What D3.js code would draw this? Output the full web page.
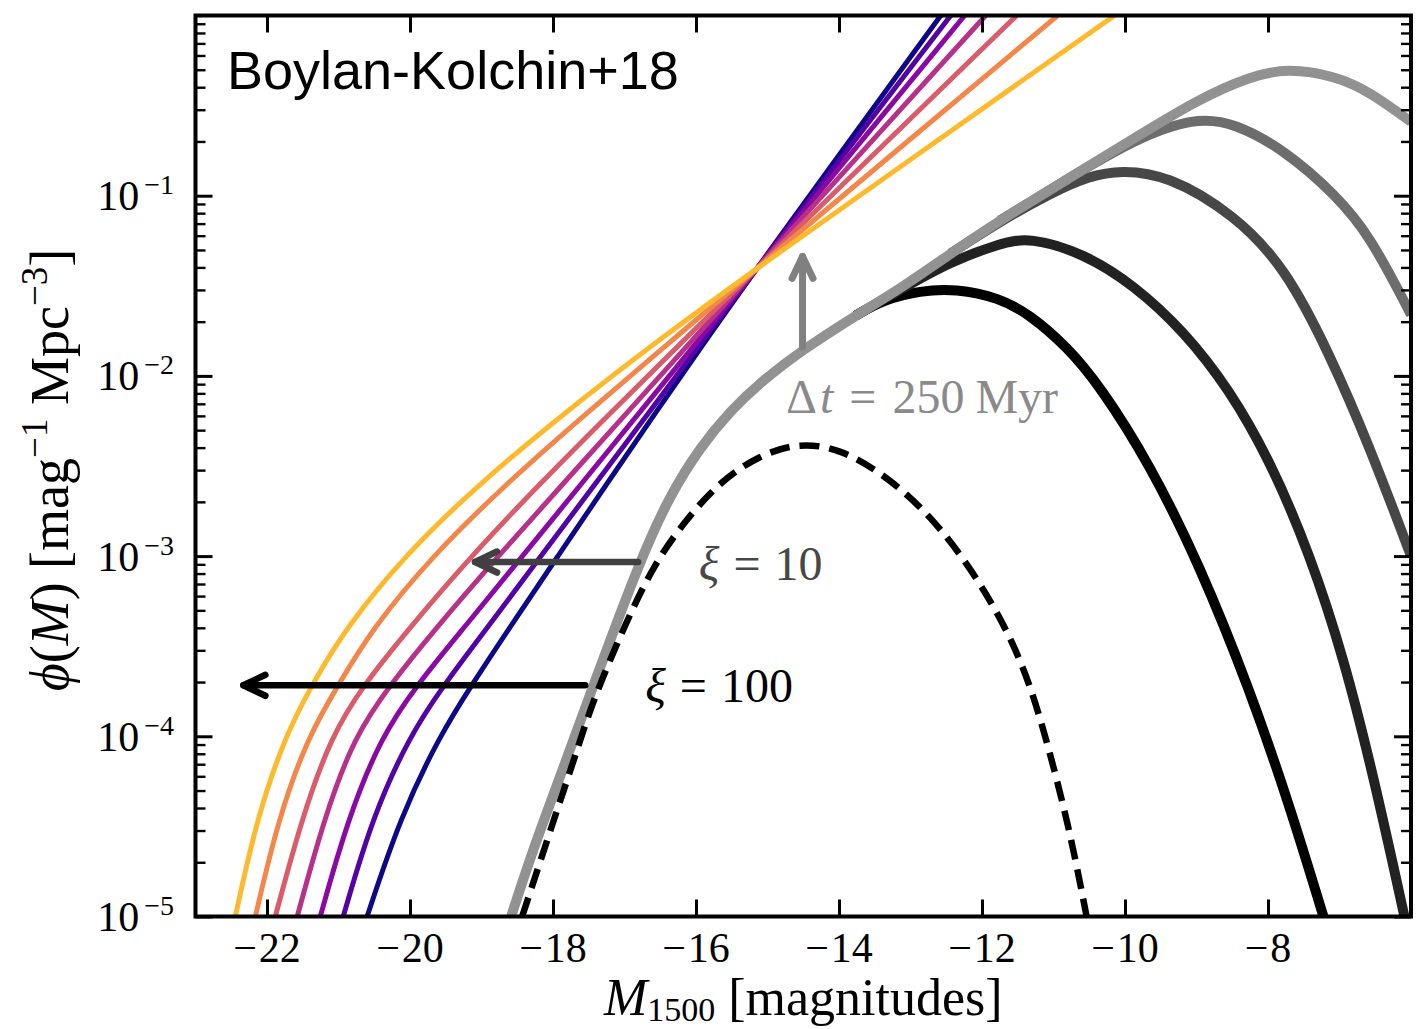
<!DOCTYPE html>
<html>
<head>
<meta charset="utf-8">
<script src="https://cdn.jsdelivr.net/npm/d3@7"></script>
<style>
  html, body { margin: 0; padding: 0; background: #ffffff; }
  svg { display: block; }
</style>
</head>
<body>
<svg id="chart" width="1427" height="1029"></svg>
<script>
// ---------------------------------------------------------------
// UV luminosity functions, phi(M) in mag^-1 Mpc^-3 (stored as log10)
// ---------------------------------------------------------------

// Shared log10(phi) levels for the family of steep-faint-end LFs
const lfLogPhi = [-5, -4.45, -4, -3.72, -3.4, -3.0, -2.6, -2.2, -1.8, -1.4, 0];

// Magnitude reached by each LF at the levels above (steepest first)
const lfMags = [
  [-20.600, -20.137, -19.588, -19.145, -18.613, -17.931, -17.250, -16.558, -15.857, -15.148, -12.577],
  [-20.934, -20.528, -20.007, -19.537, -18.924, -18.168, -17.411, -16.653, -15.896, -15.148, -12.437],
  [-21.255, -20.864, -20.398, -19.914, -19.250, -18.428, -17.605, -16.783, -15.960, -15.148, -12.242],
  [-21.577, -21.199, -20.776, -20.291, -19.640, -18.768, -17.862, -16.954, -16.046, -15.148, -11.948],
  [-21.884, -21.511, -21.101, -20.661, -20.011, -19.145, -18.189, -17.184, -16.162, -15.148, -11.515],
  [-22.163, -21.838, -21.423, -21.011, -20.523, -19.690, -18.659, -17.510, -16.325, -15.148, -10.942],
  [-22.443, -22.140, -21.745, -21.381, -20.899, -20.084, -19.039, -17.824, -16.518, -15.148, -10.146]
];

// Turn-over LFs for increasing burst time scale (darkest = shortest)
const toBlackMag = [-13.770, -13.379, -12.862, -12.373, -11.752, -11.333, -10.816, -10.355, -9.656, -8.958, -8.259, -7.700, -7.225];
const toBlackLog = [-1.666, -1.577, -1.527, -1.516, -1.567, -1.660, -1.836, -2.053, -2.488, -3.048, -3.737, -4.381, -5.0];

const toNearBlackMag = [-13.770, -13.141, -12.443, -11.752, -11.333, -10.578, -9.880, -9.167, -8.538, -7.979, -7.420, -6.931, -6.512, -6.092];
const toNearBlackLog = [-1.666, -1.521, -1.366, -1.265, -1.230, -1.320, -1.494, -1.755, -2.077, -2.465, -2.982, -3.576, -4.242, -5.0];

const toDarkMag = [-12.443, -11.752, -11.053, -10.494, -10.061, -9.404, -8.468, -7.755, -7.154, -6.582, -6.0];
const toDarkLog = [-1.322, -1.144, -0.988, -0.890, -0.858, -0.885, -1.105, -1.402, -1.866, -2.388, -3.0];

const toMidMag = [-11.752, -10.816, -9.880, -9.028, -8.469, -7.756, -7.057, -6.582, -6.0];
const toMidLog = [-1.138, -0.911, -0.689, -0.565, -0.595, -0.750, -0.994, -1.216, -1.66];

const toLightMag = [-18.586, -18.321, -17.944, -17.441, -16.798, -16.364, -15.936, -15.517, -15.098, -14.511, -13.770, -13.141, -12.443, -11.752, -10.816, -9.880, -8.958, -8.259, -7.742, -7.057, -6.582, -6.0];
const toLightLog = [-5.000, -4.675, -4.270, -3.723, -3.037, -2.660, -2.393, -2.193, -2.035, -1.855, -1.666, -1.516, -1.322, -1.138, -0.911, -0.683, -0.461, -0.340, -0.292, -0.335, -0.422, -0.590];

// Dashed reference LF
const dashedMag = [-18.432, -18.180, -17.944, -17.692, -17.441, -16.965, -16.574, -16.141, -15.666, -15.107, -14.548, -13.989, -13.429, -12.870, -12.311, -11.752, -11.333, -10.984, -10.746, -10.537];
const dashedLog = [-5.0, -4.697, -4.409, -4.114, -3.798, -3.354, -3.037, -2.798, -2.587, -2.438, -2.370, -2.405, -2.532, -2.715, -2.976, -3.326, -3.687, -4.187, -4.575, -5.0];

// Axis ticks
const xTicks = [-22, -20, -18, -16, -14, -12, -10, -8];
const yExponents = [-5, -4, -3, -2, -1];

// Annotation arrows (magnitude, log10 phi)
const arrowDt   = { mag: -14.51, fromLog: -1.84, toLog: -1.337 };
const arrowXi10 = { log: -3.033, fromMag: -16.81, toMag: -19.09 };
const arrowXi100 = { log: -3.717, fromMag: -17.55, toMag: -22.33 };

// ---------------------------------------------------------------
const svg = d3.select("#chart");
const frame = { left: 195.5, right: 1411, top: 15.5, bottom: 916.5 };
const serif = "'Liberation Serif', 'DejaVu Serif', 'Times New Roman', serif";

const x = d3.scaleLinear().domain([-23, -6]).range([frame.left, frame.right]);
const y = d3.scaleLog().domain([1e-5, 1]).range([frame.bottom, frame.top]);

const phi = v => Math.pow(10, v);
const line = d3.line()
  .x(d => x(d[0]))
  .y(d => y(phi(d[1])))
  .curve(d3.curveBasis);

svg.append("defs").append("clipPath").attr("id", "plot-clip")
  .append("rect")
  .attr("x", frame.left).attr("y", frame.top)
  .attr("width", frame.right - frame.left)
  .attr("height", frame.bottom - frame.top);

const plot = svg.append("g").attr("clip-path", "url(#plot-clip)");

// Steep faint-end LFs, plasma colour ramp
lfMags.forEach((mags, i) => {
  const pts = mags.map((m, j) => [m, lfLogPhi[j]]);
  plot.append("path")
    .attr("d", line(pts))
    .attr("fill", "none")
    .attr("stroke", d3.interpolatePlasma(i * 0.85 / 6))
    .attr("stroke-width", 5);
});

// Turn-over family, light envelope drawn last
const grayCurves = [
  { mag: toBlackMag, log: toBlackLog, color: "#000000" },
  { mag: toNearBlackMag, log: toNearBlackLog, color: "#222222" },
  { mag: toDarkMag, log: toDarkLog, color: "#474747" },
  { mag: toMidMag, log: toMidLog, color: "#6d6d6d" },
  { mag: toLightMag, log: toLightLog, color: "#929292" }
];
grayCurves.forEach(c => {
  plot.append("path")
    .attr("d", line(c.mag.map((m, j) => [m, c.log[j]])))
    .attr("fill", "none")
    .attr("stroke", c.color)
    .attr("stroke-width", 10);
});

plot.append("path")
  .attr("d", line(dashedMag.map((m, j) => [m, dashedLog[j]])))
  .attr("fill", "none")
  .attr("stroke", "#000")
  .attr("stroke-width", 6.5)
  .attr("stroke-dasharray", "20 10");

// Arrows
function arrow(x1, y1, x2, y2, color, width) {
  const g = svg.append("g")
    .attr("fill", "none").attr("stroke", color)
    .attr("stroke-width", width)
    .attr("stroke-linecap", "round").attr("stroke-linejoin", "round");
  g.append("line").attr("x1", x1).attr("y1", y1).attr("x2", x2).attr("y2", y2);
  const ang = Math.atan2(y2 - y1, x2 - x1);
  const len = 22, half = 10.5;
  const bx = x2 - len * Math.cos(ang), by = y2 - len * Math.sin(ang);
  const nx = -Math.sin(ang) * half, ny = Math.cos(ang) * half;
  g.append("path").attr("d",
    `M${bx + nx},${by + ny} L${x2},${y2} L${bx - nx},${by - ny}`);
}
arrow(x(arrowDt.mag), y(phi(arrowDt.fromLog)), x(arrowDt.mag), y(phi(arrowDt.toLog)), "#808080", 7);
arrow(x(arrowXi10.fromMag), y(phi(arrowXi10.log)), x(arrowXi10.toMag), y(phi(arrowXi10.log)), "#404040", 6.5);
arrow(x(arrowXi100.fromMag), y(phi(arrowXi100.log)), x(arrowXi100.toMag), y(phi(arrowXi100.log)), "#000000", 6.5);

// Annotation labels (math-style spacing around the relation sign)
function mathLabel(mag, logv, parts, color) {
  const t = svg.append("text")
    .attr("x", x(mag)).attr("y", y(phi(logv)))
    .attr("font-family", serif).attr("font-size", 48)
    .attr("fill", color);
  parts.forEach(p => {
    const s = t.append("tspan").text(p.t);
    if (p.i) s.attr("font-style", "italic");
    if (p.dx) s.attr("dx", p.dx);
  });
}
mathLabel(-14.74, -2.204,
  [{ t: "\u0394" }, { t: "t", i: true, dx: 3 }, { t: "=", dx: 16 }, { t: "250", dx: 16 }, { t: "Myr", dx: 11 }],
  "#8a8a8a");
mathLabel(-15.96, -3.132, [{ t: "\u03be", i: true }, { t: "=", dx: 14 }, { t: "10", dx: 14 }], "#474747");
mathLabel(-16.71, -3.807, [{ t: "\u03be", i: true }, { t: "=", dx: 14 }, { t: "100", dx: 14 }], "#000000");

svg.append("text")
  .attr("x", 227).attr("y", 89)
  .attr("font-family", "'Liberation Sans', Arial, Helvetica, sans-serif")
  .attr("font-size", 54)
  .attr("fill", "#000")
  .text("Boylan-Kolchin+18");

// Axes: inward ticks on all four sides
const minorY = [];
for (let e = -5; e < 0; e++) for (let k = 2; k <= 9; k++) minorY.push(k * Math.pow(10, e));
const majorY = yExponents.map(e => Math.pow(10, e));

function styleAxis(g, w) {
  g.select(".domain").remove();
  g.selectAll(".tick line").attr("stroke", "#000").attr("stroke-width", w);
  g.selectAll(".tick text").remove();
}
svg.append("g").attr("transform", `translate(0,${frame.bottom})`)
  .call(d3.axisBottom(x).tickValues(xTicks).tickSize(-17)).call(g => styleAxis(g, 3));
svg.append("g").attr("transform", `translate(0,${frame.top})`)
  .call(d3.axisTop(x).tickValues(xTicks).tickSize(-17)).call(g => styleAxis(g, 3));
svg.append("g").attr("transform", `translate(${frame.left},0)`)
  .call(d3.axisLeft(y).tickValues(majorY).tickSize(-17)).call(g => styleAxis(g, 3));
svg.append("g").attr("transform", `translate(${frame.left},0)`)
  .call(d3.axisLeft(y).tickValues(minorY).tickSize(-10)).call(g => styleAxis(g, 2.4));
svg.append("g").attr("transform", `translate(${frame.right},0)`)
  .call(d3.axisRight(y).tickValues(majorY).tickSize(-17)).call(g => styleAxis(g, 3));
svg.append("g").attr("transform", `translate(${frame.right},0)`)
  .call(d3.axisRight(y).tickValues(minorY).tickSize(-10)).call(g => styleAxis(g, 2.4));

svg.append("rect")
  .attr("x", frame.left).attr("y", frame.top)
  .attr("width", frame.right - frame.left).attr("height", frame.bottom - frame.top)
  .attr("fill", "none").attr("stroke", "#000").attr("stroke-width", 4);

// Tick labels
xTicks.forEach(v => {
  const t = svg.append("text")
    .attr("x", x(v)).attr("y", 962)
    .attr("text-anchor", "middle")
    .attr("font-family", serif).attr("font-size", 42);
  t.append("tspan").text("\u2212");
  t.append("tspan").attr("dx", 2).text(Math.abs(v));
});
yExponents.forEach(e => {
  const t = svg.append("text")
    .attr("x", 174).attr("y", y(Math.pow(10, e)) + 14.5)
    .attr("text-anchor", "end")
    .attr("font-family", serif).attr("font-size", 42);
  t.append("tspan").text("10");
  t.append("tspan").attr("dx", 5).attr("dy", -16).attr("font-size", 28).text("\u2212" + Math.abs(e));
});

// Axis titles
const xl = svg.append("text")
  .attr("x", (frame.left + frame.right) / 2).attr("y", 1015)
  .attr("text-anchor", "middle")
  .attr("font-family", serif).attr("font-size", 52);
xl.append("tspan").attr("font-style", "italic").text("M");
xl.append("tspan").attr("dy", 6).attr("font-size", 34).text("1500");
xl.append("tspan").attr("dy", -6).text(" [magnitudes]");

const yl = svg.append("text")
  .attr("transform", `translate(68,470) rotate(-90)`)
  .attr("text-anchor", "middle")
  .attr("font-family", serif).attr("font-size", 54);
yl.append("tspan").attr("font-style", "italic").text("\u03d5");
yl.append("tspan").text("(");
yl.append("tspan").attr("font-style", "italic").text("M");
yl.append("tspan").text(") [mag");
yl.append("tspan").attr("dy", -21).attr("font-size", 37).text("\u22121");
yl.append("tspan").attr("dy", 21).text(" Mpc");
yl.append("tspan").attr("dy", -21).attr("font-size", 37).text("\u22123");
yl.append("tspan").attr("dy", 21).text("]");
</script>
</body>
</html>
